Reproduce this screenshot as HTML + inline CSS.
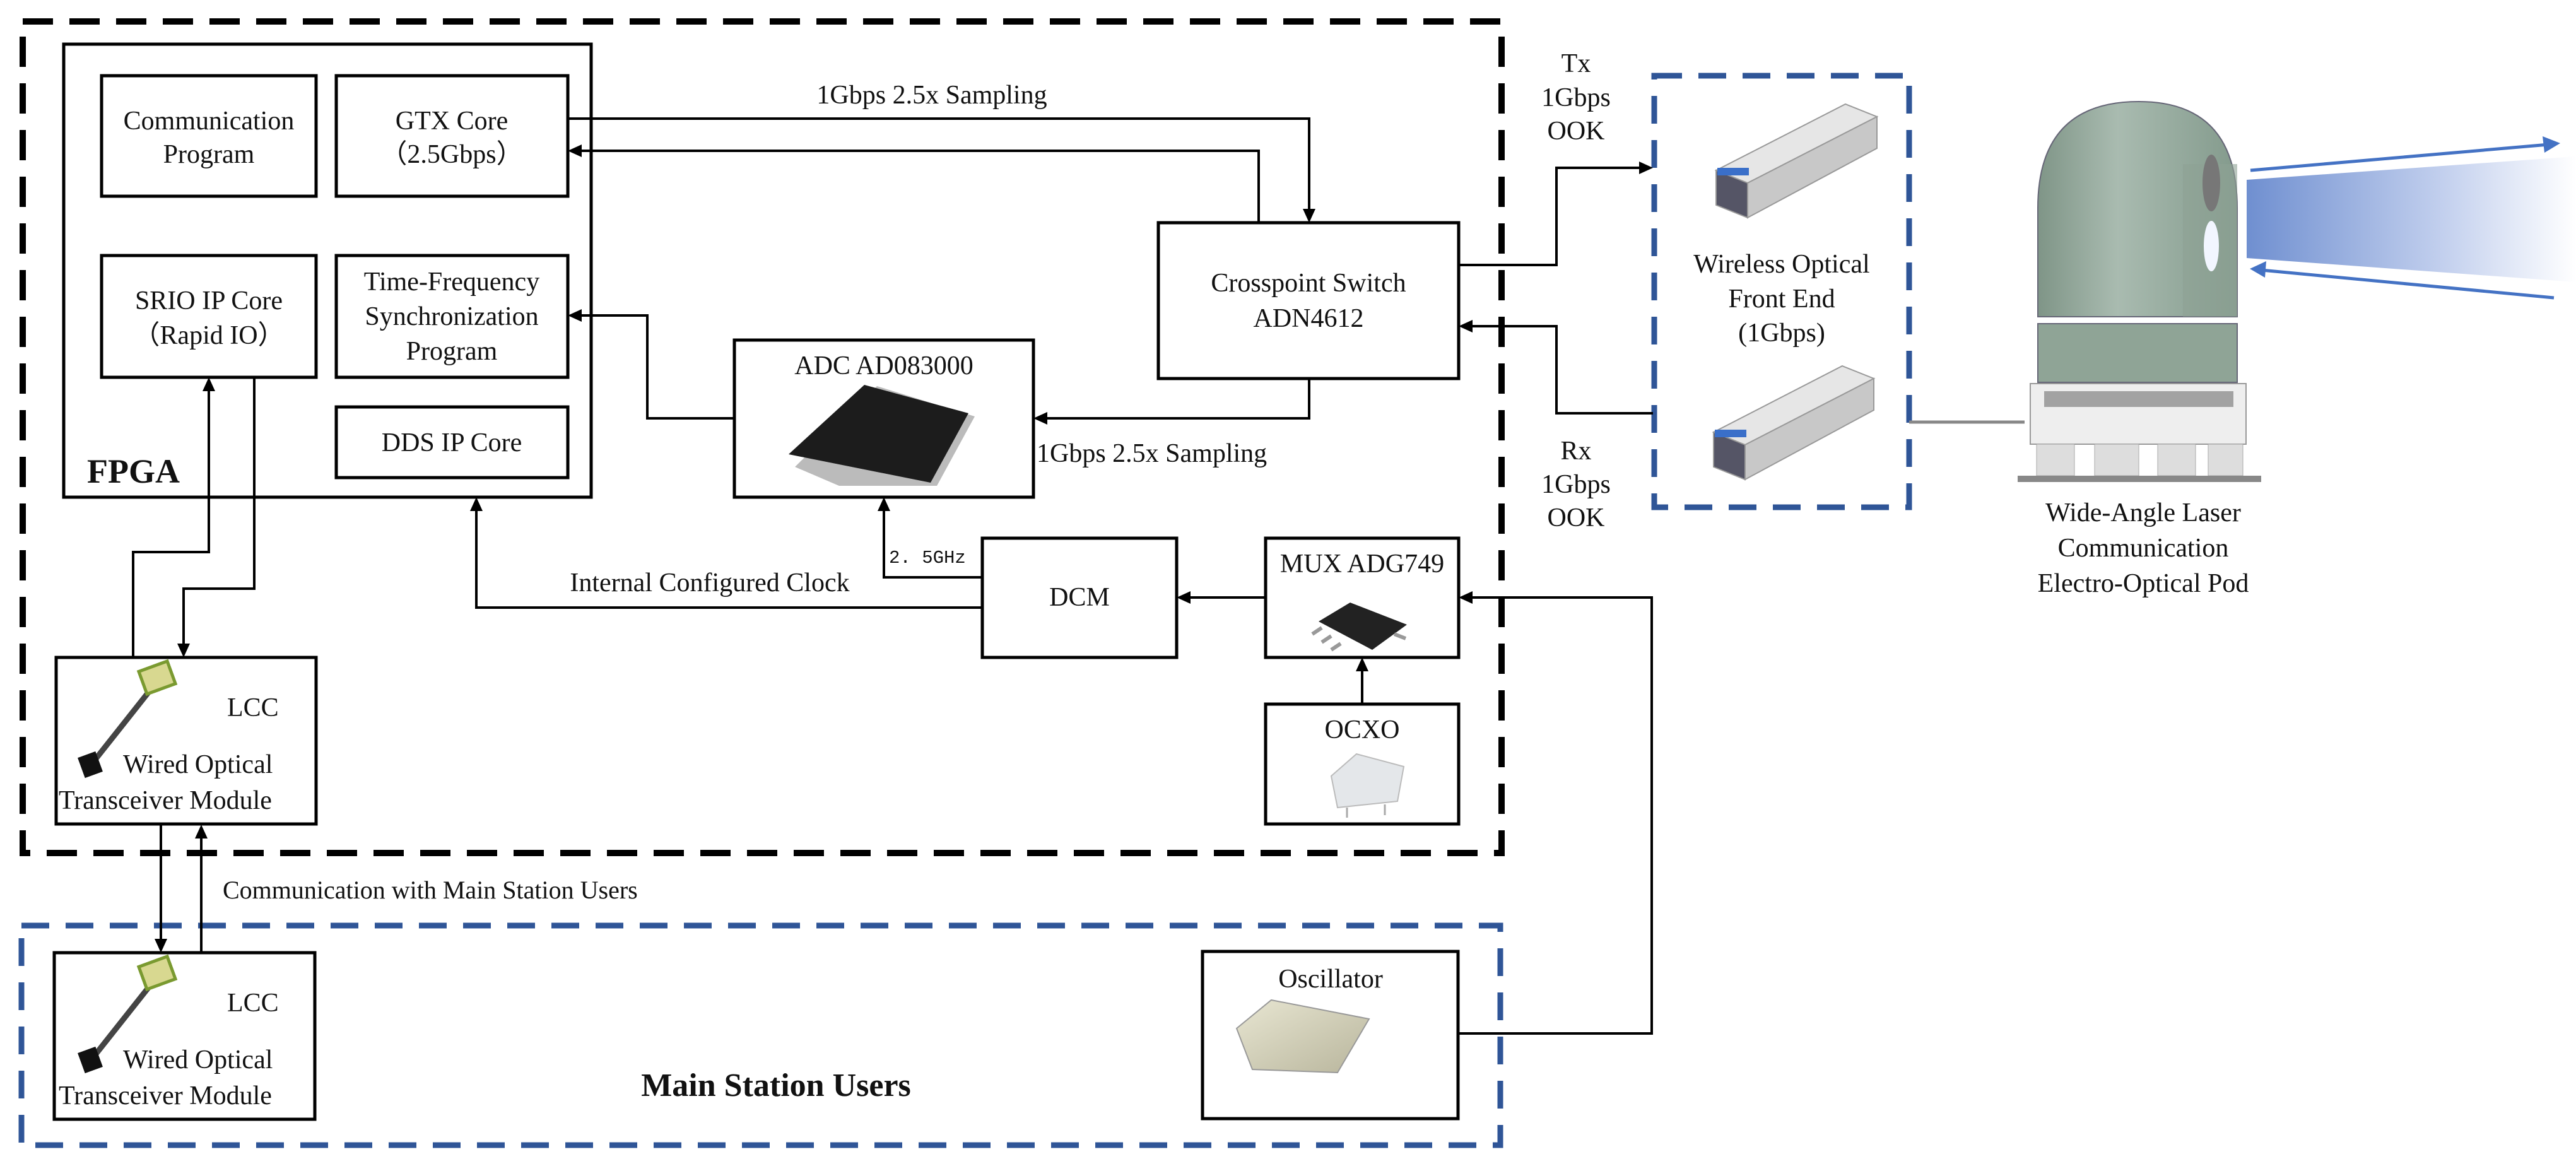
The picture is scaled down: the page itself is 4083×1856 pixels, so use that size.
<!DOCTYPE html>
<html><head><meta charset="utf-8"><style>
html,body{margin:0;padding:0;background:#fff}
svg{display:block}
text{font-family:"Liberation Serif",serif;fill:#111}
</style></head><body>
<svg width="4083" height="1856" viewBox="0 0 4083 1856" xmlns="http://www.w3.org/2000/svg">
<defs>
<linearGradient id="beam" x1="0" x2="1" y1="0" y2="0">
<stop offset="0" stop-color="#6f8fd0"/><stop offset="0.6" stop-color="#c3d0ee"/><stop offset="1" stop-color="#ffffff"/>
</linearGradient>
<linearGradient id="pod" x1="0" x2="1"><stop offset="0" stop-color="#7f9587"/><stop offset="0.4" stop-color="#a9bbb0"/><stop offset="1" stop-color="#839a8c"/></linearGradient>
<linearGradient id="osc" x1="0" x2="1" y1="0" y2="1"><stop offset="0" stop-color="#e8e6d2"/><stop offset="1" stop-color="#b8b59c"/></linearGradient>
</defs>

<rect x="36" y="34" width="2344" height="1318" fill="none" stroke="#000" stroke-width="10" stroke-dasharray="48,26"/>
<rect x="34" y="1467" width="2344" height="348" fill="none" stroke="#2f5597" stroke-width="9" stroke-dasharray="44,26"/>
<rect x="2622" y="120" width="404" height="684" fill="none" stroke="#2f5597" stroke-width="9" stroke-dasharray="44,26"/>

<g fill="#fff" stroke="#000" stroke-width="5">
<rect x="101" y="70" width="836" height="718"/>
<rect x="161" y="120" width="340" height="191"/>
<rect x="533" y="120" width="367" height="191"/>
<rect x="161" y="405" width="340" height="193"/>
<rect x="533" y="405" width="367" height="193"/>
<rect x="533" y="645" width="367" height="112"/>
<rect x="1836" y="353" width="476" height="247"/>
<rect x="1164" y="539" width="474" height="249"/>
<rect x="1557" y="853" width="308" height="189"/>
<rect x="2006" y="853" width="306" height="189"/>
<rect x="2006" y="1116" width="306" height="190"/>
<rect x="89" y="1042" width="412" height="264"/>
<rect x="86" y="1510" width="413" height="264"/>
<rect x="1906" y="1508" width="405" height="265"/>
</g>

<g fill="none" stroke="#000" stroke-width="4">
<polyline points="900,188 2075,188 2075,336"/>
<polyline points="1995,353 1995,239 918,239"/>
<polyline points="2075,600 2075,663 1656,663"/>
<polyline points="1164,663 1026,663 1026,500 918,500"/>
<polyline points="1557,915 1401,915 1401,806"/>
<polyline points="1557,963 755,963 755,806"/>
<polyline points="2006,947 1883,947"/>
<polyline points="2159,1116 2159,1060"/>
<polyline points="211,1042 211,875 331,875 331,616"/>
<polyline points="403,598 403,933 291,933 291,1024"/>
<polyline points="255,1307 255,1492"/>
<polyline points="319,1510 319,1325"/>
<polyline points="2311,1638 2618,1638 2618,947 2330,947"/>
<polyline points="2312,420 2467,420 2467,266 2602,266"/>
<polyline points="2620,655 2467,655 2467,517 2330,517"/>
</g>
<g fill="#000">
<polygon points="2075,353 2065,331 2085,331"/>
<polygon points="900,239 922,229 922,249"/>
<polygon points="1638,663 1660,653 1660,673"/>
<polygon points="900,500 922,490 922,510"/>
<polygon points="1401,788 1391,810 1411,810"/>
<polygon points="755,788 745,810 765,810"/>
<polygon points="1865,947 1887,937 1887,957"/>
<polygon points="2159,1042 2149,1064 2169,1064"/>
<polygon points="331,598 321,620 341,620"/>
<polygon points="291,1042 281,1020 301,1020"/>
<polygon points="255,1510 245,1488 265,1488"/>
<polygon points="319,1307 309,1329 329,1329"/>
<polygon points="2312,947 2334,937 2334,957"/>
<polygon points="2620,266 2598,256 2598,276"/>
<polygon points="2312,517 2334,507 2334,527"/>
</g>

<g font-size="42" text-anchor="middle">
<text x="331" y="205">Communication</text><text x="331" y="258">Program</text>
<text x="716" y="205">GTX Core</text><text x="716" y="258">（2.5Gbps）</text>
<text x="331" y="490">SRIO IP Core</text><text x="331" y="545">（Rapid IO）</text>
<text x="716" y="460">Time-Frequency</text><text x="716" y="515">Synchronization</text><text x="716" y="570">Program</text>
<text x="716" y="715">DDS IP Core</text>
<text x="2074" y="462">Crosspoint Switch</text><text x="2074" y="518">ADN4612</text>
<text x="1401" y="593">ADC AD083000</text>
<text x="1711" y="960">DCM</text>
<text x="2159" y="907">MUX  ADG749</text>
<text x="2159" y="1170">OCXO</text>
<text x="2109" y="1565">Oscillator</text>
<text x="1477" y="164">1Gbps 2.5x Sampling</text>
<text x="1125" y="937">Internal Configured Clock</text>
<text x="2498" y="114">Tx</text><text x="2498" y="168">1Gbps</text><text x="2498" y="221">OOK</text>
<text x="2498" y="728">Rx</text><text x="2498" y="781">1Gbps</text><text x="2498" y="834">OOK</text>
<text x="2824" y="432">Wireless Optical</text><text x="2824" y="487">Front End</text><text x="2824" y="541">(1Gbps)</text>
<text x="3397" y="826">Wide-Angle Laser</text><text x="3397" y="882">Communication</text><text x="3397" y="938">Electro-Optical Pod</text>
<text x="3815" y="361">FSO Link</text>
</g>
<text x="1643" y="732" font-size="42">1Gbps 2.5x Sampling</text>
<text x="1409" y="892" font-size="29" style="font-family:'Liberation Mono',monospace">2. 5GHz</text>
<text x="353" y="1424" font-size="40">Communication with Main Station Users</text>
<text x="138" y="765" font-size="54" font-weight="bold">FPGA</text>
<text x="1230" y="1737" font-size="52" font-weight="bold" text-anchor="middle">Main Station Users</text>
<g font-size="42">
<text x="360" y="1135">LCC</text><text x="195" y="1225">Wired Optical</text><text x="93" y="1282">Transceiver Module</text>
<text x="360" y="1603">LCC</text><text x="195" y="1693">Wired Optical</text><text x="93" y="1750">Transceiver Module</text>
</g>

<g>
<line x1="150" y1="1205" x2="245" y2="1085" stroke="#444" stroke-width="9"/>
<rect x="225" y="1055" width="48" height="38" fill="#d8d890" stroke="#7a9a30" stroke-width="5" transform="rotate(-20 249 1074)"/>
<rect x="128" y="1195" width="30" height="34" fill="#111" transform="rotate(-20 143 1212)"/>
<line x1="150" y1="1673" x2="245" y2="1553" stroke="#444" stroke-width="9"/>
<rect x="225" y="1523" width="48" height="38" fill="#d8d890" stroke="#7a9a30" stroke-width="5" transform="rotate(-20 249 1542)"/>
<rect x="128" y="1663" width="30" height="34" fill="#111" transform="rotate(-20 143 1680)"/>
</g>

<polygon points="1260,740 1390,612 1545,660 1485,770 1330,770" fill="#bbb"/>
<polygon points="1250,720 1370,610 1535,655 1475,765" fill="#1c1c1c"/>
<polygon points="2090,985 2140,955 2230,990 2175,1030" fill="#222"/>
<g stroke="#999" stroke-width="6"><line x1="2095" y1="995" x2="2080" y2="1005"/><line x1="2110" y1="1008" x2="2095" y2="1018"/><line x1="2125" y1="1020" x2="2110" y2="1030"/><line x1="2210" y1="1005" x2="2228" y2="1012"/></g>
<polygon points="2110,1230 2150,1195 2225,1215 2215,1270 2120,1280" fill="#e4e7ea" stroke="#bbb" stroke-width="2"/>
<g stroke="#aaa" stroke-width="3"><line x1="2135" y1="1280" x2="2135" y2="1296"/><line x1="2195" y1="1275" x2="2195" y2="1292"/></g>
<polygon points="1960,1630 2015,1585 2170,1615 2120,1700 1985,1695" fill="url(#osc)" stroke="#999" stroke-width="2"/>

<g stroke="#999" stroke-width="2">
<polygon points="2720,270 2925,165 2975,185 2770,290" fill="#e6e6e6"/>
<polygon points="2770,290 2975,185 2975,235 2770,345" fill="#c8c8c8"/>
<polygon points="2720,270 2770,290 2770,345 2720,325" fill="#556"/>
<polygon points="2716,685 2920,580 2970,600 2766,705" fill="#e6e6e6"/>
<polygon points="2766,705 2970,600 2970,650 2766,760" fill="#c8c8c8"/>
<polygon points="2716,685 2766,705 2766,760 2716,740" fill="#556"/>
</g>
<rect x="2722" y="266" width="50" height="12" fill="#3a6fc9"/>
<rect x="2718" y="681" width="50" height="12" fill="#3a6fc9"/>
<line x1="3026" y1="669" x2="3209" y2="669" stroke="#888" stroke-width="5"/>

<path d="M3230,502 L3230,330 Q3230,161 3390,161 Q3546,161 3546,330 L3546,502 Z" fill="url(#pod)" stroke="#667" stroke-width="2"/>
<rect x="3460" y="260" width="86" height="242" fill="#8ea294" opacity="0.6"/>
<ellipse cx="3505" cy="290" rx="14" ry="45" fill="#777"/>
<ellipse cx="3505" cy="390" rx="12" ry="40" fill="#f2f6ff"/>
<rect x="3230" y="513" width="316" height="93" fill="#8fa496" stroke="#667" stroke-width="2"/>
<rect x="3218" y="608" width="342" height="96" fill="#eee" stroke="#999" stroke-width="2"/>
<rect x="3240" y="620" width="300" height="25" fill="#555" opacity="0.5"/>
<g fill="#ddd" stroke="#aaa"><rect x="3228" y="704" width="60" height="50"/><rect x="3320" y="704" width="70" height="50"/><rect x="3420" y="704" width="60" height="50"/><rect x="3500" y="704" width="55" height="50"/></g>
<rect x="3198" y="754" width="386" height="10" fill="#888"/>

<polygon points="3561,285 4083,248 4083,447 3561,409" fill="url(#beam)"/>
<line x1="3567" y1="270" x2="4040" y2="229" stroke="#4472c4" stroke-width="5"/>
<polygon points="4058,227 4030,216 4033,242" fill="#4472c4"/>
<line x1="4048" y1="472" x2="3584" y2="428" stroke="#4472c4" stroke-width="5"/>
<polygon points="3566,426 3592,414 3590,440" fill="#4472c4"/>
</svg>
</body></html>
